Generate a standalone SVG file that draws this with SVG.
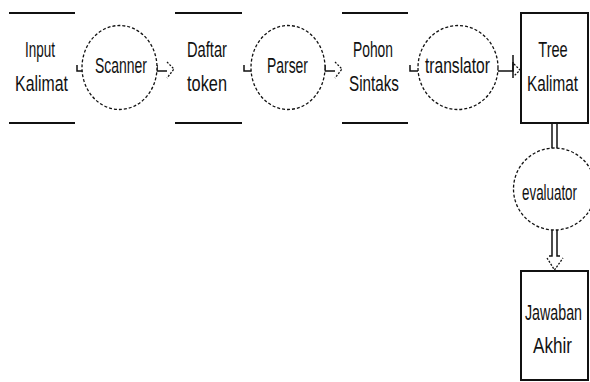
<svg xmlns="http://www.w3.org/2000/svg" width="590" height="382" viewBox="0 0 590 382">
  <style>
    .store { stroke: #111; stroke-width: 2; fill: none; }
    .box { stroke: #111; stroke-width: 2; fill: #fff; }
    .proc { stroke: #111; stroke-width: 1.3; stroke-dasharray: 3 2; fill: #fff; }
    .flow { stroke: #111; stroke-width: 1.5; fill: none; }
    .head { stroke: #111; stroke-width: 1.3; stroke-dasharray: 2 1.5; fill: none; }
    text { font-family: "Liberation Sans", Arial, sans-serif; font-size: 22px; fill: #111; text-anchor: middle; }
  </style>

  <!-- flows -->
  <g id="connectors">
    <path class="flow" d="M77 65 V71 H84"/>
    <path class="flow" d="M157 65 V71 H167"/>
    <path class="head" d="M167 62 L174 69 L167 78"/>
    <path class="flow" d="M244 65 V71 H252"/>
    <path class="flow" d="M325 65 V71 H335"/>
    <path class="head" d="M335 62 L342 69 L335 78"/>
    <path class="flow" d="M410 65 V71 H418"/>
    <path class="flow" d="M498 71 H513 V55"/>
    <path class="flow" d="M513 62 V78"/>
    <path class="head" d="M514 64 L520 70 L514 76"/>
    <path class="flow" d="M552 124 V149 M557 124 V149"/>
    <path class="flow" d="M552 230 V256 H549 M557 230 V256 H560"/>
    <path class="head" d="M547 258 L554.5 270 L563 258"/>
  </g>

  <!-- condensed labels: each text is narrowed with a horizontal scale -->
  <g id="input-kalimat">
    <line class="store" x1="9" y1="13" x2="75" y2="13"/>
    <line class="store" x1="9" y1="123" x2="75" y2="123"/>
    <text transform="translate(40 57) scale(0.613 1)">Input</text>
    <text transform="translate(41.5 91) scale(0.72 1)">Kalimat</text>
  </g>

  <g id="scanner">
    <ellipse class="proc" cx="119.5" cy="67.5" rx="37.5" ry="42"/>
    <text transform="translate(121 73) scale(0.635 1)">Scanner</text>
  </g>

  <g id="daftar-token">
    <line class="store" x1="175" y1="13" x2="242" y2="13"/>
    <line class="store" x1="175" y1="123" x2="242" y2="123"/>
    <text transform="translate(207 57) scale(0.668 1)">Daftar</text>
    <text transform="translate(207 91) scale(0.743 1)">token</text>
  </g>

  <g id="parser">
    <ellipse class="proc" cx="288" cy="67.5" rx="37" ry="42"/>
    <text transform="translate(287.5 73) scale(0.633 1)">Parser</text>
  </g>

  <g id="pohon-sintaks">
    <line class="store" x1="342" y1="13" x2="408" y2="13"/>
    <line class="store" x1="342" y1="123" x2="408" y2="123"/>
    <text transform="translate(373 57) scale(0.629 1)">Pohon</text>
    <text transform="translate(374 91) scale(0.693 1)">Sintaks</text>
  </g>

  <g id="translator">
    <ellipse class="proc" cx="458" cy="67.5" rx="40" ry="42"/>
    <text transform="translate(457.5 73) scale(0.709 1)">translator</text>
  </g>

  <g id="tree-kalimat">
    <rect class="box" x="521" y="13" width="67" height="110"/>
    <text transform="translate(553 57) scale(0.663 1)">Tree</text>
    <text transform="translate(552.5 91) scale(0.696 1)">Kalimat</text>
  </g>

  <g id="evaluator">
    <ellipse class="proc" cx="554.5" cy="189" rx="41" ry="41"/>
    <text transform="translate(549.5 200) scale(0.608 1)">evaluator</text>
  </g>

  <g id="jawaban-akhir">
    <rect class="box" x="521" y="271" width="67" height="109"/>
    <text transform="translate(553.5 320) scale(0.648 1)">Jawaban</text>
    <text transform="translate(552.5 353) scale(0.778 1)">Akhir</text>
  </g>
</svg>
